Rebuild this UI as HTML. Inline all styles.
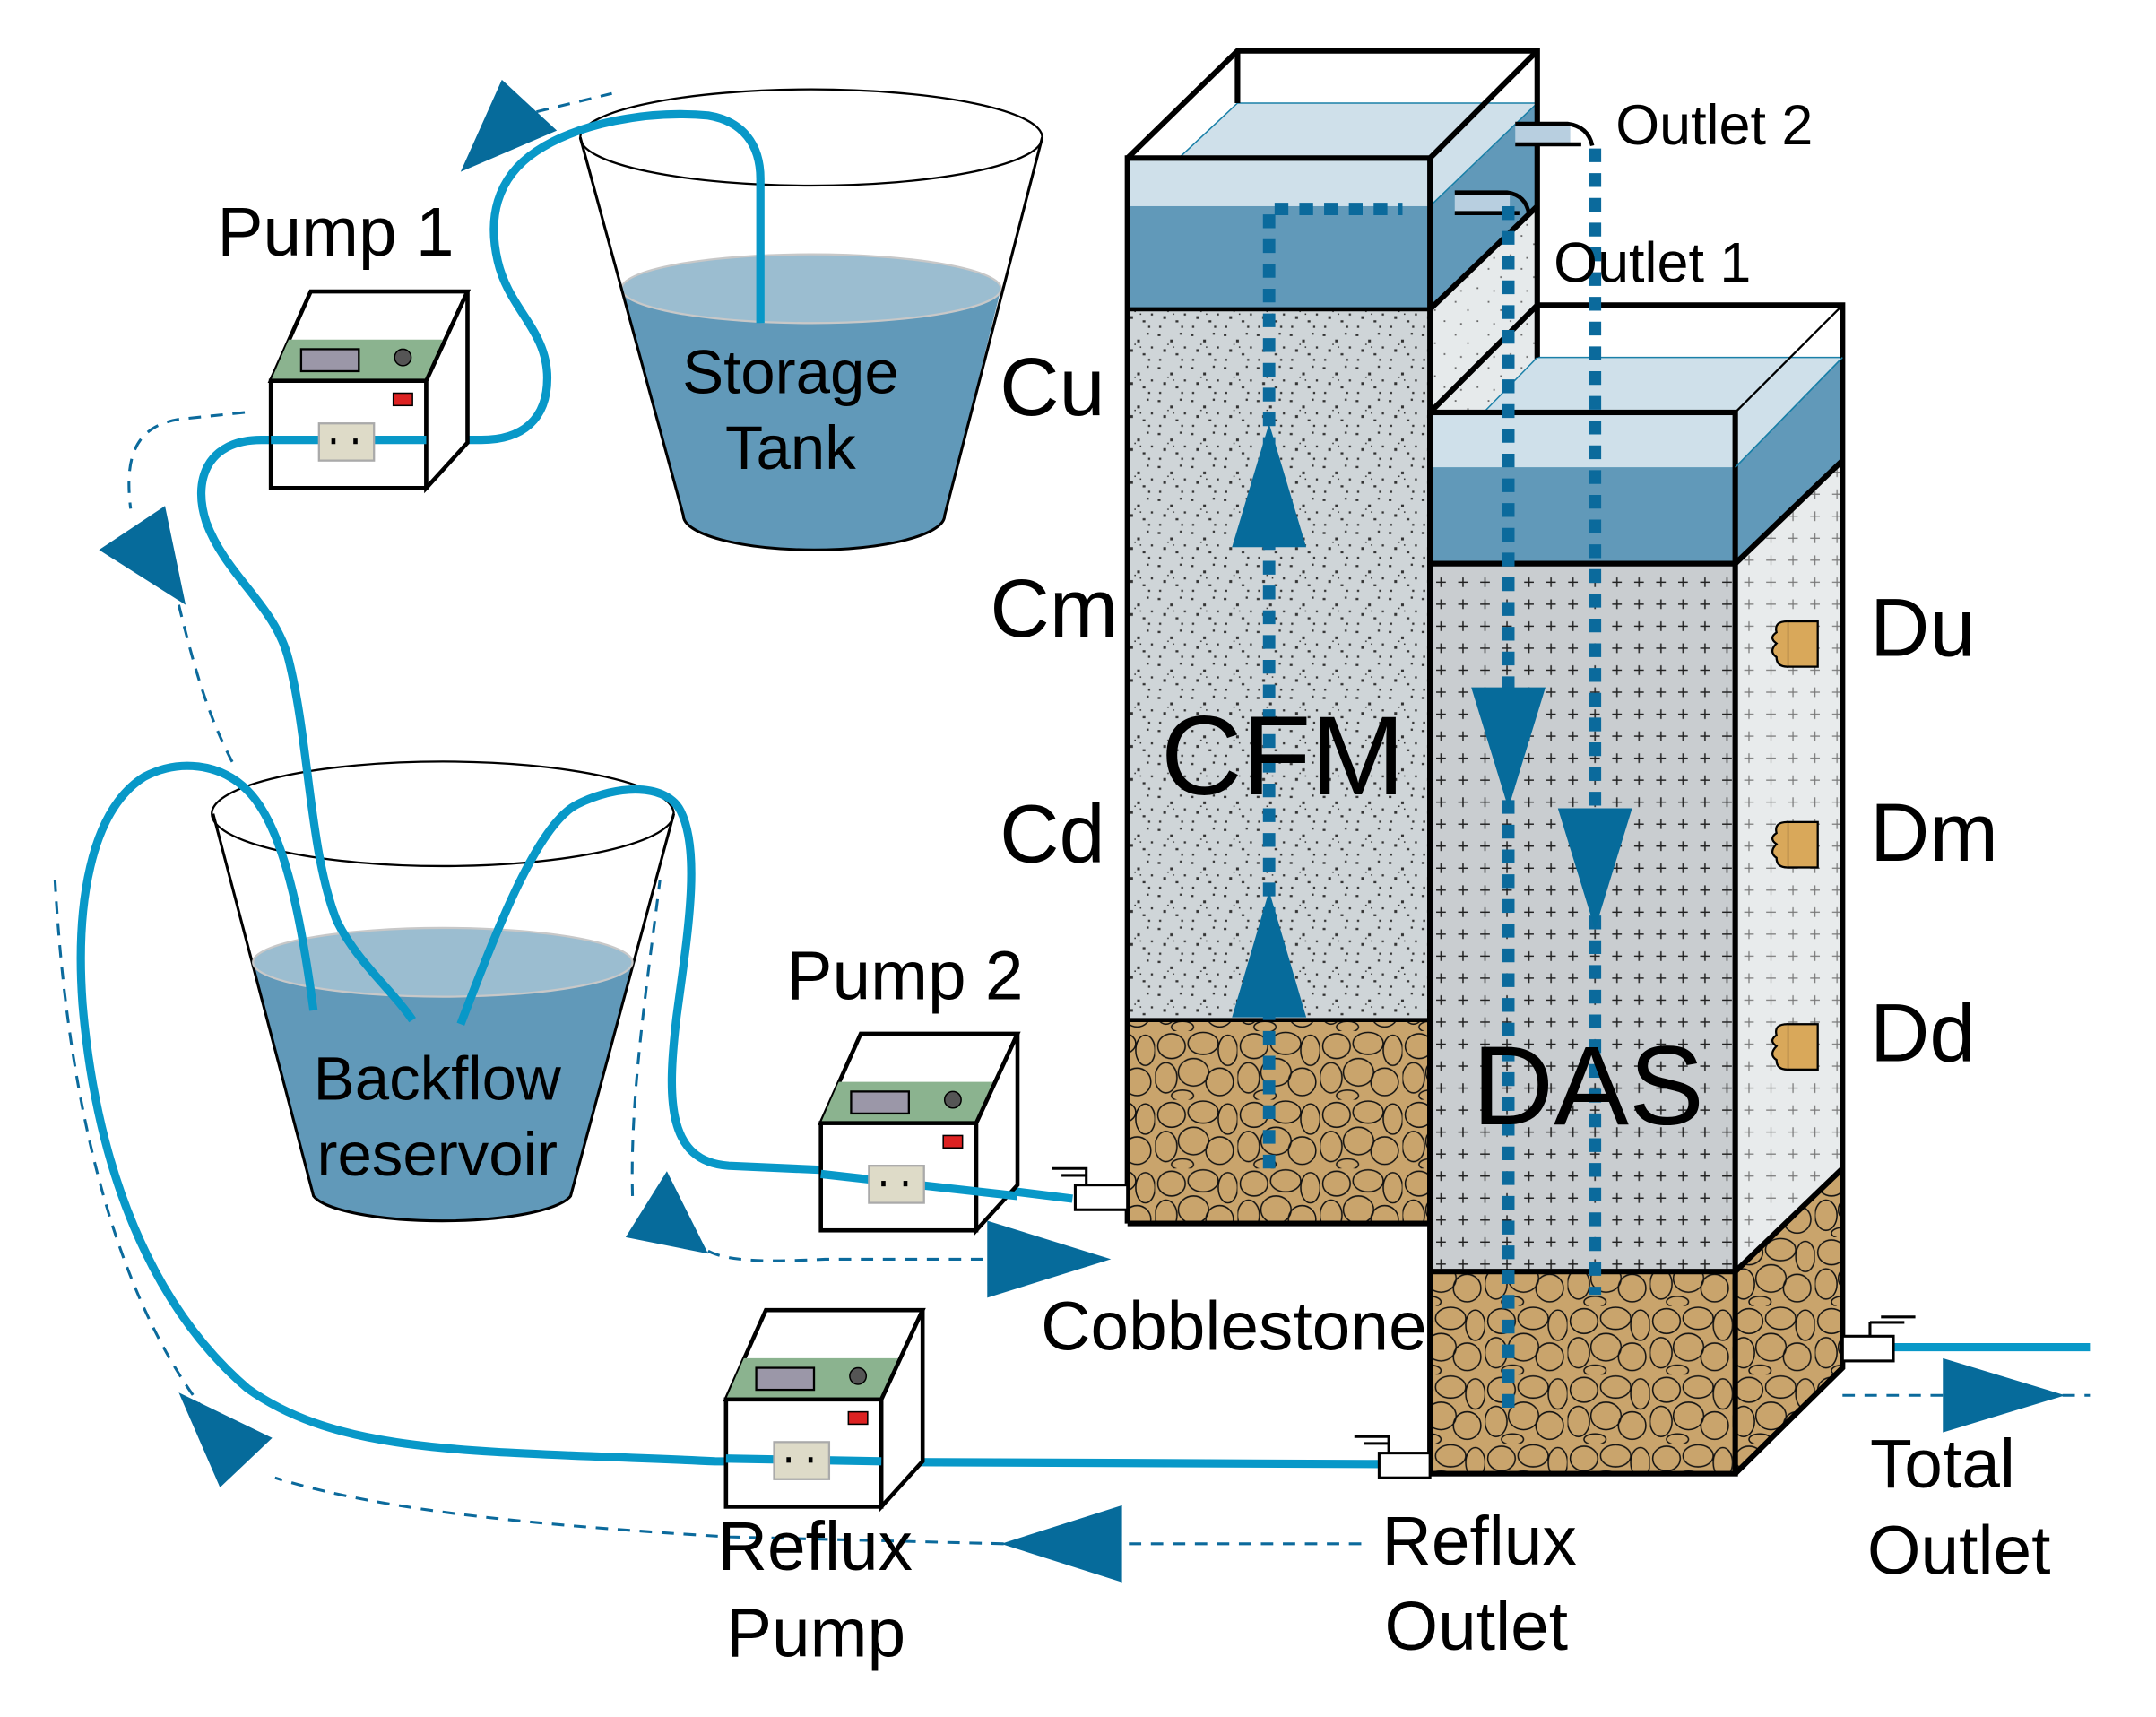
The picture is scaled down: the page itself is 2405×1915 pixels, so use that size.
<!DOCTYPE html>
<html><head><meta charset="utf-8"><style>html,body{margin:0;padding:0;background:#fff}svg{display:block}text{font-family:"Liberation Sans",Arial,sans-serif;fill:#000}</style></head><body>
<svg width="2405" height="1915" viewBox="0 0 1568 1249" preserveAspectRatio="none" xmlns="http://www.w3.org/2000/svg">
<defs>
<pattern id="sp" width="24" height="24" patternUnits="userSpaceOnUse">
<rect width="24" height="24" fill="#cfd5d8"/>
<g fill="#333"><rect x="2" y="3" width="2" height="1.5"/><rect x="11" y="7" width="2" height="2"/><rect x="18" y="2" width="1.5" height="1.5"/><rect x="6" y="14" width="2" height="2"/><rect x="15" y="17" width="2" height="1.5"/><rect x="21" y="12" width="1.5" height="1.5"/><rect x="3" y="21" width="1.5" height="1.5"/><rect x="9" y="10" width="1" height="1"/><rect x="19" y="21" width="1.5" height="1.5"/><rect x="13" y="12" width="1" height="1"/></g></pattern>
<pattern id="sp2" width="24" height="24" patternUnits="userSpaceOnUse">
<rect width="24" height="24" fill="#e6eaeb"/>
<g fill="#666"><rect x="2" y="3" width="1.2" height="1.2"/><rect x="11" y="9" width="1.2" height="1.2"/><rect x="18" y="17" width="1.2" height="1.2"/><rect x="6" y="19" width="1.2" height="1.2"/></g></pattern>
<pattern id="pl" width="16" height="16" patternUnits="userSpaceOnUse">
<rect width="16" height="16" fill="#c9cdd0"/>
<path d="M8 4v7M4.5 7.5h7" stroke="#222" stroke-width="1"/></pattern>
<pattern id="pl2" width="16" height="16" patternUnits="userSpaceOnUse">
<rect width="16" height="16" fill="#e8ebec"/>
<path d="M8 4v7M4.5 7.5h7" stroke="#777" stroke-width="0.8"/></pattern>
<pattern id="cb" width="60" height="50" patternUnits="userSpaceOnUse">
<rect width="60" height="50" fill="#c9a46c"/>
<g fill="none" stroke="#111" stroke-width="1">
<ellipse cx="12" cy="11" rx="10" ry="9"/><ellipse cx="35" cy="9" rx="11" ry="8"/><ellipse cx="53" cy="14" rx="7" ry="11"/>
<ellipse cx="8" cy="34" rx="8" ry="11"/><ellipse cx="28" cy="30" rx="11" ry="10"/><ellipse cx="47" cy="37" rx="10" ry="10"/>
<ellipse cx="20" cy="47" rx="8" ry="4"/></g></pattern>
</defs>

<!-- CFM column -->
<g stroke="#000">
<polygon points="1040,150 1118,75 1118,150 1040,225" fill="#6199b9" stroke="none"/>
<polygon points="1040,225 1118,150 1118,300 1040,378" fill="url(#sp2)" stroke="none"/>
<polygon points="820,150 900,75 1118,75 1040,150" fill="#cfe0ea" stroke="#1a80a8" stroke-width="1"/>
<rect x="820" y="150" width="220" height="75" fill="#6199b9" stroke="none"/>
<rect x="820" y="115" width="220" height="35" fill="#cfe0ea" stroke="none"/>
<rect x="820" y="225" width="220" height="517" fill="url(#sp)" stroke="none"/>
<rect x="820" y="742" width="220" height="148" fill="url(#cb)" stroke="none"/>
<g fill="none" stroke-width="4">
<polyline points="820,890 820,115 1040,115 1040,890 820,890"/>
<line x1="820" y1="225" x2="1040" y2="225" stroke-width="3"/>
<line x1="820" y1="742" x2="1040" y2="742" stroke-width="3"/>
<polyline points="820,115 900,37 1118,37 1118,300"/>
<line x1="900" y1="37" x2="900" y2="75"/>
<line x1="1040" y1="115" x2="1118" y2="37"/>
<line x1="1040" y1="225" x2="1118" y2="150"/>
</g>
</g>

<!-- DAS column -->
<g>
<polygon points="1262,340 1340,260 1340,335 1262,410" fill="#6199b9"/>
<polygon points="1262,410 1340,335 1340,850 1262,925" fill="url(#pl2)"/>
<polygon points="1262,925 1340,850 1340,995 1262,1072" fill="url(#cb)"/>
<polygon points="1040,340 1118,260 1340,260 1262,340" fill="#cfe0ea" stroke="#1a80a8" stroke-width="1"/>
<rect x="1040" y="300" width="222" height="40" fill="#cfe0ea"/>
<rect x="1040" y="340" width="222" height="70" fill="#6199b9"/>
<rect x="1040" y="410" width="222" height="515" fill="url(#pl)"/>
<rect x="1040" y="925" width="222" height="147" fill="url(#cb)"/>
<g fill="none" stroke="#000" stroke-width="4">
<rect x="1040" y="300" width="222" height="772"/>
<line x1="1040" y1="410" x2="1262" y2="410"/>
<line x1="1040" y1="925" x2="1262" y2="925"/>
<polyline points="1040,300 1118,222 1340,222 1340,995 1262,1072"/>
<line x1="1262" y1="300" x2="1340" y2="222" stroke-width="1.5"/>
<line x1="1262" y1="410" x2="1340" y2="335"/>
<line x1="1262" y1="925" x2="1340" y2="850"/>
<line x1="1118" y1="222" x2="1118" y2="260" stroke-width="2"/>
</g>
<line x1="1262" y1="340" x2="1340" y2="260" stroke="#1a80a8" stroke-width="1"/>
</g>

<!-- outlets -->
<rect x="1102" y="90" width="40" height="15" fill="#b8cfe0"/>
<path d="M1102,90 H1140 Q1155,92 1158,106 M1102,105 H1150" fill="none" stroke="#000" stroke-width="3"/>
<rect x="1058" y="140" width="40" height="15" fill="#b8cfe0"/>
<path d="M1058,140 H1096 Q1110,142 1112,156 M1058,155 H1105" fill="none" stroke="#000" stroke-width="3"/>

<!-- dotted flow lines -->
<g fill="none" stroke="#0b6a9c" stroke-width="9" stroke-dasharray="10,8">
<polyline points="923,850 923,152 1020,152"/>
<line x1="1097" y1="150" x2="1097" y2="1032"/>
<line x1="1160" y1="108" x2="1160" y2="942"/>
</g>
<g fill="#066b9b">
<polygon points="923,308 896,398 950,398"/>
<polygon points="923,648 896,740 950,740"/>
<polygon points="1070,500 1124,500 1097,588"/>
<polygon points="1133,588 1187,588 1160,676"/>
</g>

<!-- sensors -->
<g fill="#d9a85a" stroke="#000" stroke-width="1.5">
<rect x="1300" y="452" width="22" height="33"/><path d="M1300,452 q-10,0 -8,8 q-6,4 0,8 q-6,6 0,10 q0,7 8,7" />
<rect x="1300" y="598" width="22" height="33"/><path d="M1300,598 q-10,0 -8,8 q-6,4 0,8 q-6,6 0,10 q0,7 8,7"/>
<rect x="1300" y="745" width="22" height="33"/><path d="M1300,745 q-10,0 -8,8 q-6,4 0,8 q-6,6 0,10 q0,7 8,7"/>
</g>

<!-- storage tank -->
<path d="M452,210 L497,375 A95,25 0 0 0 687,375 L728,210 Z" fill="#6199b9"/>
<ellipse cx="590" cy="210" rx="138" ry="25" fill="#9bbdd0" stroke="#c8c8c8" stroke-width="1.5"/>
<ellipse cx="590" cy="100" rx="168" ry="35" fill="none" stroke="#000" stroke-width="1.5"/>
<path d="M422,100 L497,375 A95,25 0 0 0 687,375 L758,100" fill="none" stroke="#000" stroke-width="2"/>

<!-- backflow reservoir -->
<path d="M184,700 L228,870 A95,22 0 0 0 415,870 L460,700 Z" fill="#6199b9"/>
<path d="M155,592 L228,870 A95,22 0 0 0 415,870 L490,592" fill="none" stroke="#000" stroke-width="2"/>
<ellipse cx="322" cy="700" rx="138" ry="25" fill="#9bbdd0" stroke="#c8c8c8" stroke-width="1.5"/>
<ellipse cx="322" cy="592" rx="168" ry="38" fill="none" stroke="#000" stroke-width="1.5"/>

<!-- pipes -->
<g fill="none" stroke="#0898c8" stroke-width="6" stroke-linecap="butt">
<path d="M553,235 L553,130 C553,105 540,88 515,84 C470,80 420,90 390,110 C360,130 355,160 362,190 C370,225 398,240 398,275 C398,305 380,320 350,320 L190,320 C150,320 140,350 150,380 C165,420 200,440 210,480 C225,540 225,620 245,670 C260,700 285,720 300,742"/>
<path d="M228,735 C218,660 205,600 180,575 C160,555 130,552 105,565 C65,590 55,660 60,730 C70,850 110,950 180,1010 C250,1060 350,1055 520,1063 L1005,1065"/>
<path d="M335,745 C360,680 390,600 420,585 C450,570 485,570 495,590 C510,620 500,680 492,740 C485,800 485,845 530,848 L620,852 L780,872"/>
<path d="M1340,980 L1520,980"/>
</g>

<!-- valves -->
<g fill="#fff" stroke="#000" stroke-width="2">
<rect x="782" y="862" width="38" height="18"/>
<path d="M765,850 h25 v12 M772,855 h18" fill="none"/>
<rect x="1003" y="1057" width="37" height="18"/>
<path d="M985,1045 h25 v12 M992,1050 h18" fill="none"/>
<rect x="1340" y="972" width="37" height="18"/>
<path d="M1360,962 h25 M1360,962 v10 M1368,958 h25" fill="none"/>
</g>

<!-- pumps -->
<g transform="translate(197,212)">
<polygon points="0,65 29,0 143,0 113,65" fill="#fff" stroke="#000" stroke-width="3"/>
<polygon points="13,35 125,35 113,65 0,65" fill="#8bb38f"/>
<rect x="0" y="65" width="113" height="78" fill="#fff" stroke="#000" stroke-width="3"/>
<polygon points="113,65 143,0 143,110 113,143" fill="#fff" stroke="#000" stroke-width="3"/>
<rect x="22" y="42" width="42" height="16" fill="#9b97a8" stroke="#000" stroke-width="1.5"/>
<circle cx="96" cy="48" r="6" fill="#555" stroke="#000"/>
<rect x="89" y="74" width="14" height="9" fill="#d22" stroke="#000" stroke-width="1"/>
<line x1="0" y1="108" x2="113" y2="108" stroke="#0898c8" stroke-width="6"/>
<rect x="35" y="96" width="40" height="27" fill="#dedbc8" stroke="#aaa" stroke-width="1.5"/>
<rect x="44" y="107" width="3" height="4" fill="#000"/><rect x="60" y="107" width="3" height="4" fill="#000"/>
</g>
<g transform="translate(597,752)">
<polygon points="0,65 29,0 143,0 113,65" fill="#fff" stroke="#000" stroke-width="3"/>
<polygon points="13,35 125,35 113,65 0,65" fill="#8bb38f"/>
<rect x="0" y="65" width="113" height="78" fill="#fff" stroke="#000" stroke-width="3"/>
<polygon points="113,65 143,0 143,110 113,143" fill="#fff" stroke="#000" stroke-width="3"/>
<rect x="22" y="42" width="42" height="16" fill="#9b97a8" stroke="#000" stroke-width="1.5"/>
<circle cx="96" cy="48" r="6" fill="#555" stroke="#000"/>
<rect x="89" y="74" width="14" height="9" fill="#d22" stroke="#000" stroke-width="1"/>
<line x1="0" y1="102" x2="143" y2="118" stroke="#0898c8" stroke-width="6"/>
<rect x="35" y="96" width="40" height="27" fill="#dedbc8" stroke="#aaa" stroke-width="1.5"/>
<rect x="44" y="107" width="3" height="4" fill="#000"/><rect x="60" y="107" width="3" height="4" fill="#000"/>
</g>
<g transform="translate(528,953)">
<polygon points="0,65 29,0 143,0 113,65" fill="#fff" stroke="#000" stroke-width="3"/>
<polygon points="13,35 125,35 113,65 0,65" fill="#8bb38f"/>
<rect x="0" y="65" width="113" height="78" fill="#fff" stroke="#000" stroke-width="3"/>
<polygon points="113,65 143,0 143,110 113,143" fill="#fff" stroke="#000" stroke-width="3"/>
<rect x="22" y="42" width="42" height="16" fill="#9b97a8" stroke="#000" stroke-width="1.5"/>
<circle cx="96" cy="48" r="6" fill="#555" stroke="#000"/>
<rect x="89" y="74" width="14" height="9" fill="#d22" stroke="#000" stroke-width="1"/>
<line x1="0" y1="108" x2="113" y2="110" stroke="#0898c8" stroke-width="6"/>
<rect x="35" y="96" width="40" height="27" fill="#dedbc8" stroke="#aaa" stroke-width="1.5"/>
<rect x="44" y="107" width="3" height="4" fill="#000"/><rect x="60" y="107" width="3" height="4" fill="#000"/>
</g>

<!-- dashed flow arrows -->
<g fill="none" stroke="#0b6a9c" stroke-width="2" stroke-dasharray="9,7">
<path d="M345,120 C350,100 360,90 375,85 L445,68"/>
<path d="M178,300 L130,305 C100,310 90,330 95,370"/>
<path d="M130,440 C140,480 150,520 172,560"/>
<path d="M460,870 C458,800 470,720 480,640"/>
<path d="M515,910 C530,918 560,918 600,916 L720,916"/>
<path d="M990,1123 L820,1123"/>
<path d="M730,1123 L530,1118 C400,1110 280,1100 200,1075"/>
<path d="M160,1040 C90,960 50,820 40,640"/>
<path d="M1340,1015 L1520,1015"/>
</g>
<g fill="#066b9b">
<polygon points="365,58 335,125 405,95"/>
<polygon points="72,400 120,368 135,440"/>
<polygon points="485,852 455,900 515,912"/>
<polygon points="808,916 718,888 718,944"/>
<polygon points="728,1123 816,1095 816,1151"/>
<polygon points="130,1013 198,1046 160,1082"/>
<polygon points="1502,1015 1413,988 1413,1042"/>
</g>

<!-- labels -->
<g font-size="50">
<text x="158" y="186">Pump 1</text>
<text x="572" y="727">Pump 2</text>
<text x="575" y="286" text-anchor="middle" font-size="45">Storage</text>
<text x="575" y="341" text-anchor="middle" font-size="45">Tank</text>
<text x="318" y="800" text-anchor="middle" font-size="45">Backflow</text>
<text x="318" y="855" text-anchor="middle" font-size="45">reservoir</text>
<text x="757" y="982">Cobblestone</text>
<text x="522" y="1142">Reflux</text>
<text x="528" y="1205">Pump</text>
<text x="1005" y="1138">Reflux</text>
<text x="1007" y="1200">Outlet</text>
<text x="1360" y="1082">Total</text>
<text x="1358" y="1145">Outlet</text>
</g>
<g font-size="41">
<text x="1175" y="105">Outlet 2</text>
<text x="1130" y="205">Outlet 1</text>
</g>
<g font-size="60">
<text x="727" y="302">Cu</text>
<text x="720" y="463">Cm</text>
<text x="727" y="627">Cd</text>
<text x="1360" y="477">Du</text>
<text x="1360" y="626">Dm</text>
<text x="1360" y="772">Dd</text>
</g>
<text x="933" y="578" text-anchor="middle" font-size="82">CFM</text>
<text x="1155" y="818" text-anchor="middle" font-size="82">DAS</text>
</svg>
</body></html>
